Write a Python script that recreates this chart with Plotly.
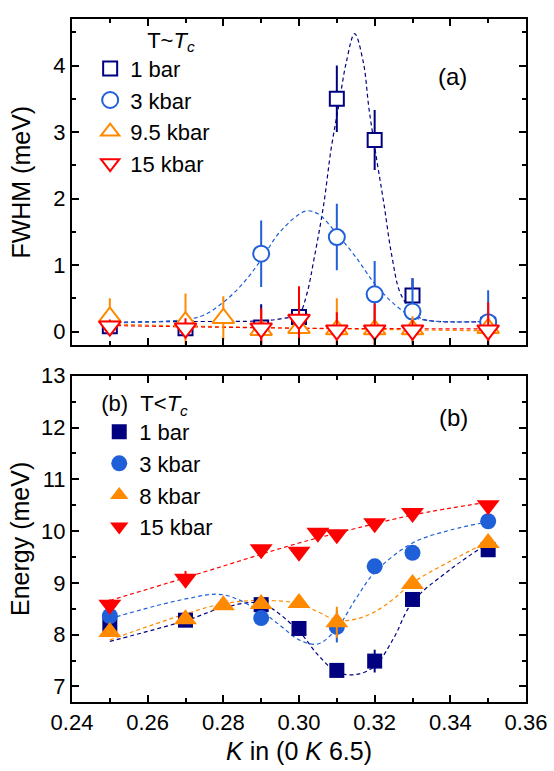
import plotly.graph_objects as go

NAVY = "#000080"
BLUE = "#1f5fd8"
ORANGE = "#ff8a00"
RED = "#ff0000"
FONT = "Liberation Sans, Arial, sans-serif"

# ---------------- Panel (a): FWHM at T~Tc ----------------
a_1bar_K = [0.25, 0.27, 0.29, 0.30, 0.31, 0.32, 0.33, 0.35]
a_1bar_v = [0.08, 0.05, 0.06, 0.22, 3.50, 2.88, 0.54, 0.10]
a_1bar_e = [0.10, 0.10, 0.35, 0.30, 0.50, 0.45, 0.26, 0.10]

a_3kbar_K = [0.29, 0.31, 0.32, 0.33, 0.35]
a_3kbar_v = [1.17, 1.42, 0.56, 0.30, 0.14]
a_3kbar_e = [0.50, 0.50, 0.50, 0.50, 0.48]

a_95kbar_K = [0.25, 0.27, 0.28, 0.29, 0.30, 0.31, 0.32, 0.33, 0.35]
a_95kbar_v = [0.22, 0.15, 0.20, 0.02, 0.05, 0.03, 0.03, 0.03, 0.05]
a_95kbar_e = [0.28, 0.42, 0.33, 0.30, 0.30, 0.47, 0.30, 0.20, 0.20]

a_15kbar_K = [0.25, 0.27, 0.29, 0.30, 0.31, 0.32, 0.33, 0.35]
a_15kbar_v = [0.08, 0.05, 0.05, 0.18, 0.02, 0.02, 0.02, 0.02]
a_15kbar_e = [0.10, 0.15, 0.30, 0.50, 0.27, 0.40, 0.15, 0.42]

# dashed guide curves
a_fit_1bar_K = [0.25, 0.27, 0.29, 0.295, 0.30, 0.302, 0.304, 0.3065, 0.3085, 0.3105,
                0.3125, 0.3147, 0.317, 0.3185, 0.3205, 0.3225, 0.3245, 0.327, 0.3315, 0.335, 0.35]
a_fit_1bar_v = [0.14, 0.15, 0.16, 0.19, 0.27, 0.55, 1.10, 1.90, 2.75, 3.40,
                4.05, 4.48, 4.05, 3.35, 2.60, 1.90, 1.15, 0.55, 0.22, 0.16, 0.15]
a_fit_3kbar_K = [0.25, 0.27, 0.275, 0.28, 0.285, 0.29, 0.295, 0.3017, 0.305, 0.31,
                 0.315, 0.32, 0.325, 0.33, 0.335, 0.35]
a_fit_3kbar_v = [0.13, 0.18, 0.25, 0.44, 0.71, 1.08, 1.50, 1.81, 1.77, 1.47,
                 1.12, 0.72, 0.42, 0.22, 0.16, 0.15]
a_fit_95kbar_K = [0.25, 0.30, 0.35]
a_fit_95kbar_v = [0.11, 0.05, 0.01]
a_fit_15kbar_K = [0.25, 0.30, 0.35]
a_fit_15kbar_v = [0.09, 0.05, 0.04]

# ---------------- Panel (b): Energy at T<Tc ----------------
b_1bar_K = [0.25, 0.27, 0.29, 0.30, 0.31, 0.32, 0.33, 0.35]
b_1bar_v = [8.20, 8.28, 8.58, 8.12, 7.31, 7.49, 8.68, 9.64]
b_1bar_e = [0.08, 0.08, 0.08, 0.08, 0.08, 0.22, 0.08, 0.08]

b_3kbar_K = [0.25, 0.29, 0.31, 0.32, 0.33, 0.35]
b_3kbar_v = [8.36, 8.32, 8.15, 9.32, 9.58, 10.19]
b_3kbar_e = [0.08, 0.08, 0.30, 0.08, 0.08, 0.08]

b_8kbar_K = [0.25, 0.27, 0.28, 0.29, 0.30, 0.31, 0.33, 0.35]
b_8kbar_v = [8.05, 8.30, 8.57, 8.59, 8.61, 8.24, 8.98, 9.77]
b_8kbar_e = [0.08, 0.08, 0.08, 0.08, 0.08, 0.30, 0.08, 0.08]

b_15kbar_K = [0.25, 0.27, 0.29, 0.30, 0.305, 0.31, 0.32, 0.33, 0.35]
b_15kbar_v = [8.58, 9.08, 9.65, 9.60, 9.97, 9.94, 10.15, 10.35, 10.50]
b_15kbar_e = [0.10, 0.15, 0.08, 0.08, 0.08, 0.08, 0.08, 0.08, 0.08]

b_fit_1bar_K = [0.25, 0.27, 0.28, 0.29, 0.30, 0.305, 0.31, 0.315, 0.32, 0.325, 0.33, 0.34, 0.35]
b_fit_1bar_v = [7.87, 8.27, 8.52, 8.60, 8.06, 7.61, 7.28, 7.23, 7.39, 7.93, 8.63, 9.26, 9.77]
b_fit_3kbar_K = [0.25, 0.27, 0.28, 0.29, 0.295, 0.30, 0.305, 0.31, 0.315, 0.32, 0.33, 0.34, 0.35]
b_fit_3kbar_v = [8.31, 8.69, 8.77, 8.44, 8.18, 7.90, 7.82, 8.12, 8.69, 9.20, 9.77, 10.02, 10.18]
b_fit_8kbar_K = [0.25, 0.27, 0.28, 0.29, 0.30, 0.305, 0.31, 0.315, 0.32, 0.325, 0.33, 0.34, 0.35]
b_fit_8kbar_v = [7.90, 8.40, 8.60, 8.66, 8.60, 8.44, 8.28, 8.30, 8.44, 8.69, 9.00, 9.42, 9.80]
b_fit_15kbar_K = [0.25, 0.27, 0.30, 0.31, 0.33, 0.35]
b_fit_15kbar_v = [8.66, 9.10, 9.77, 9.96, 10.31, 10.56]

x_ticks = [0.24, 0.26, 0.28, 0.30, 0.32, 0.34, 0.36]
x_ticklabels = ["0.24", "0.26", "0.28", "0.30", "0.32", "0.34", "0.36"]

fig = go.Figure()

def fit(K, v, color, xa, ya):
    fig.add_trace(go.Scatter(x=K, y=v, mode="lines", xaxis=xa, yaxis=ya,
                             line=dict(color=color, width=1.2, dash="4px,3px", shape="spline", smoothing=1.0),
                             showlegend=False, hoverinfo="skip"))

def pts(K, v, e, color, symbol, name, xa, ya, legend, open_, size):
    if open_:
        marker = dict(symbol=symbol, size=size, color="white", line=dict(color=color, width=2))
    else:
        marker = dict(symbol=symbol, size=size, color=color, line=dict(color=color, width=0))
    fig.add_trace(go.Scatter(x=K, y=v, mode="markers", xaxis=xa, yaxis=ya, name=name,
                             marker=marker, legend=legend,
                             error_y=dict(type="data", array=e, visible=True, color=color,
                                          thickness=2, width=0)))

# panel (a) curves
fit(a_fit_1bar_K, a_fit_1bar_v, NAVY, "x", "y")
fit(a_fit_3kbar_K, a_fit_3kbar_v, BLUE, "x", "y")
fit(a_fit_95kbar_K, a_fit_95kbar_v, ORANGE, "x", "y")
fit(a_fit_15kbar_K, a_fit_15kbar_v, RED, "x", "y")
pts(a_1bar_K, a_1bar_v, a_1bar_e, NAVY, "square", "1 bar", "x", "y", "legend", True, 14)
pts(a_3kbar_K, a_3kbar_v, a_3kbar_e, BLUE, "circle", "3 kbar", "x", "y", "legend", True, 16)
pts(a_95kbar_K, a_95kbar_v, a_95kbar_e, ORANGE, "triangle-up", "9.5 kbar", "x", "y", "legend", True, 19)
pts(a_15kbar_K, a_15kbar_v, a_15kbar_e, RED, "triangle-down", "15 kbar", "x", "y", "legend", True, 19)

# panel (b) curves
fit(b_fit_1bar_K, b_fit_1bar_v, NAVY, "x2", "y2")
fit(b_fit_3kbar_K, b_fit_3kbar_v, BLUE, "x2", "y2")
fit(b_fit_8kbar_K, b_fit_8kbar_v, ORANGE, "x2", "y2")
fit(b_fit_15kbar_K, b_fit_15kbar_v, RED, "x2", "y2")
pts(b_1bar_K, b_1bar_v, b_1bar_e, NAVY, "square", "1 bar", "x2", "y2", "legend2", False, 15)
pts(b_3kbar_K, b_3kbar_v, b_3kbar_e, BLUE, "circle", "3 kbar", "x2", "y2", "legend2", False, 16)
pts(b_8kbar_K, b_8kbar_v, b_8kbar_e, ORANGE, "triangle-up", "8 kbar", "x2", "y2", "legend2", False, 20)
pts(b_15kbar_K, b_15kbar_v, b_15kbar_e, RED, "triangle-down", "15 kbar", "x2", "y2", "legend2", False, 20)

axis_common = dict(showline=True, linecolor="black", linewidth=2, mirror="allticks",
                   ticks="inside", ticklen=7, tickwidth=1.5, tickcolor="black",
                   showgrid=False, zeroline=False,
                   tickfont=dict(family=FONT, size=22, color="black"))

fig.update_layout(
    width=554, height=771,
    margin=dict(l=72, r=25, t=7, b=69),
    plot_bgcolor="white", paper_bgcolor="white",
    font=dict(family=FONT, color="black"),
    xaxis=dict(domain=[0, 1], anchor="y", range=[0.24, 0.36], tickvals=x_ticks,
               showticklabels=False,
               minor=dict(dtick=0.01, tick0=0.24, ticks="inside", ticklen=4, tickwidth=1.5, tickcolor="black"),
               **axis_common),
    yaxis=dict(domain=[0.522, 1.0], anchor="x", range=[-0.21, 4.7], dtick=1, tick0=0,
               minor=dict(dtick=0.5, tick0=0, ticks="inside", ticklen=4, tickwidth=1.5, tickcolor="black"),
               title=dict(text="FWHM (meV)", font=dict(family=FONT, size=25), standoff=16),
               **axis_common),
    xaxis2=dict(domain=[0, 1], anchor="y2", range=[0.24, 0.36], tickvals=x_ticks,
                ticktext=x_ticklabels,
                minor=dict(dtick=0.01, tick0=0.24, ticks="inside", ticklen=4, tickwidth=1.5, tickcolor="black"),
                title=dict(text="<i>K</i> in (0 <i>K</i> 6.5)", font=dict(family=FONT, size=25), standoff=8),
                **axis_common),
    yaxis2=dict(domain=[0, 0.4777], anchor="x2", range=[6.7, 13.0], dtick=1, tick0=7,
                minor=dict(dtick=0.5, tick0=7, ticks="inside", ticklen=4, tickwidth=1.5, tickcolor="black"),
                title=dict(text="Energy (meV)", font=dict(family=FONT, size=25), standoff=4),
                **axis_common),
    legend=dict(x=0.04, y=1.0, xanchor="left", yanchor="top", bgcolor="rgba(0,0,0,0)",
                font=dict(family=FONT, size=22),
                title=dict(text="&nbsp;&nbsp;&nbsp;&nbsp;&nbsp;&nbsp;&nbsp;&nbsp;&nbsp;T~<i>T<sub>c</sub></i>",
                           font=dict(family=FONT, size=22), side="top"),
                itemclick=False),
    legend2=dict(x=0.06, y=0.468, xanchor="left", yanchor="top", bgcolor="rgba(0,0,0,0)",
                 font=dict(family=FONT, size=22),
                 title=dict(text="(b)&nbsp;&nbsp;T&lt;<i>T<sub>c</sub></i>",
                            font=dict(family=FONT, size=22), side="top"),
                 itemclick=False),
    annotations=[
        dict(text="(a)", x=0.875, y=0.938, xref="paper", yref="paper", showarrow=False,
             font=dict(family=FONT, size=24)),
        dict(text="(b)", x=0.877, y=0.416, xref="paper", yref="paper", showarrow=False,
             font=dict(family=FONT, size=24)),
    ],
)

fig.write_html("out.html")
